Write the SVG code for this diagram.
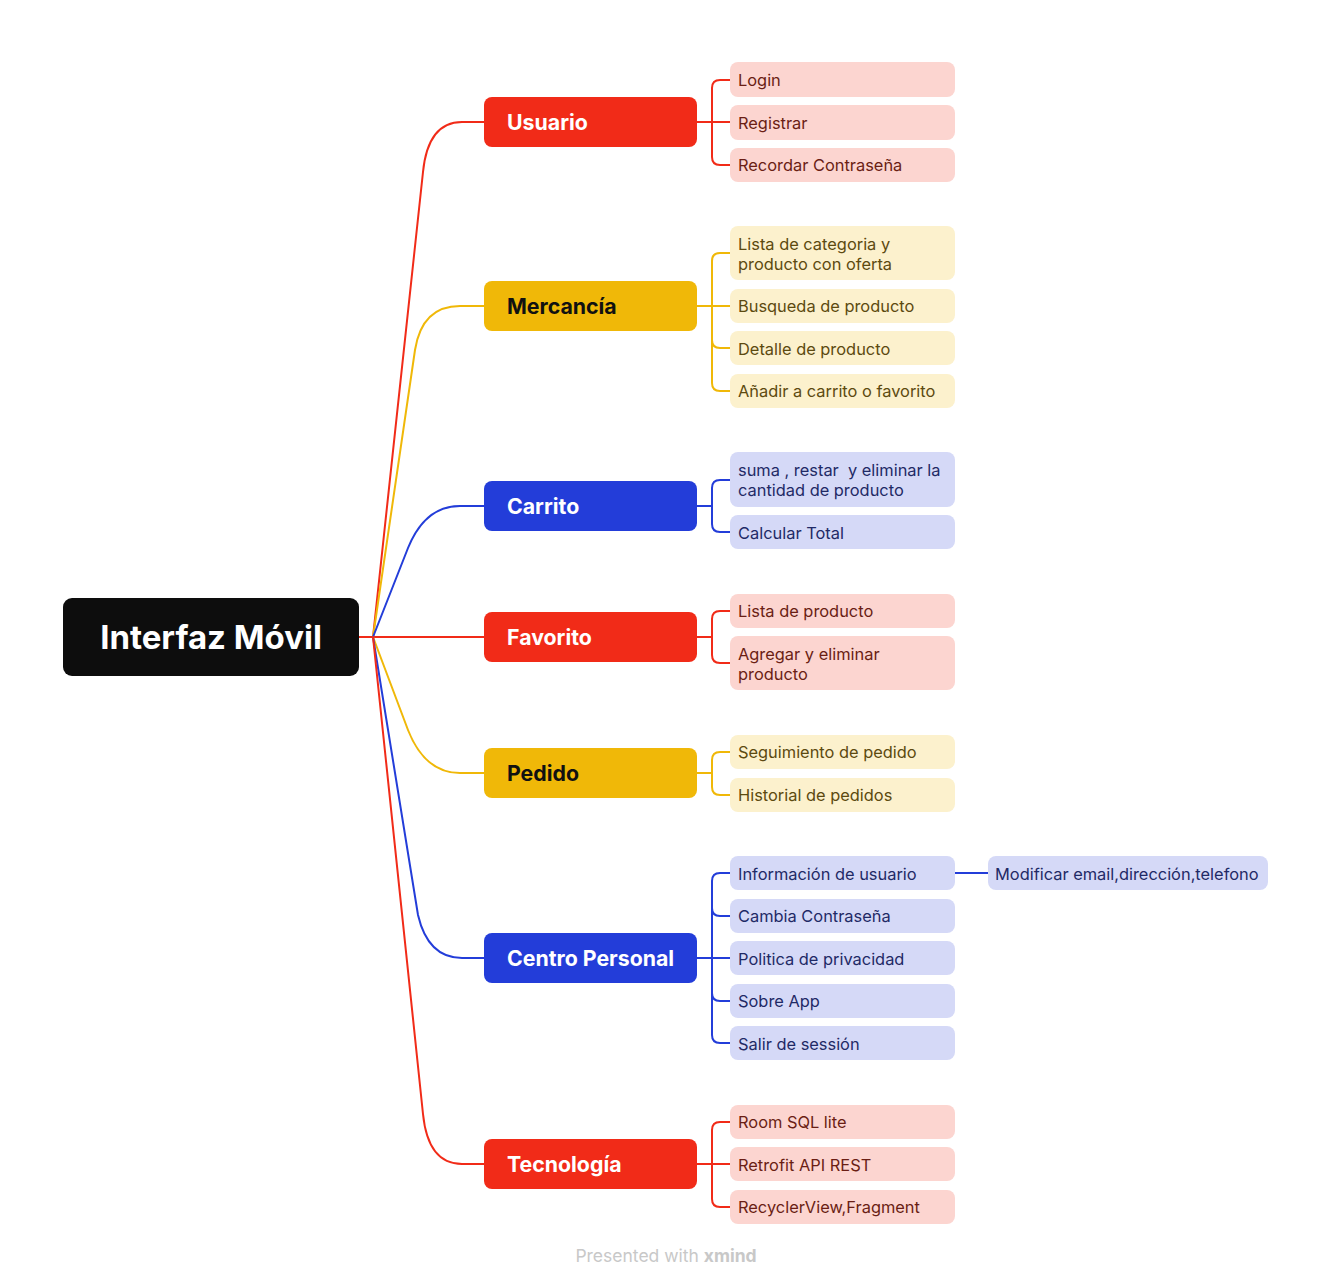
<svg xmlns="http://www.w3.org/2000/svg" width="1332" height="1287" viewBox="0 0 1332 1287">
<style>
.t{font-family:Inter,"Noto Sans","DejaVu Sans",sans-serif}
.br{font-family:Inter,"Noto Sans",sans-serif;font-size:21.3px;font-weight:700}
.lf{font-family:Inter,"Noto Sans",sans-serif;font-size:16.4px;white-space:pre}
.c{fill:none;stroke-width:2;stroke-linecap:round}
.r{stroke:#F12B18}.y{stroke:#F0B808}.b{stroke:#233DD9}
.nr{fill:#F12B18}.ny{fill:#F0B808}.nb{fill:#233DD9}
.lr{fill:#FCD5D0}.ly{fill:#FCF1CD}.lb{fill:#D5D9F7}
.tr{fill:#6A1E14}.ty{fill:#5C4A10}.tb{fill:#1F2A66}
</style>
<rect width="1332" height="1287" fill="#fff"/>
<g id="connectors">
<path class="c r" d="M359,637 H373 L423,172 Q428,122 462,122 H484"/>
<path class="c y" d="M373,637 L415,350 Q422,306 460,306 H484"/>
<path class="c b" d="M373,637 L408,548 Q425,506 460,506 H484"/>
<path class="c r" d="M373,637 H484"/>
<path class="c y" d="M373,637 L408,730 Q425,773 460,773 H484"/>
<path class="c b" d="M373,637 L418,915 Q428,958 462,958 H484"/>
<path class="c r" d="M373,637 L423,1114 Q428,1164 462,1164 H484"/>
<path class="c r" d="M697,122 H730 M730,80 H720 Q712,80 712,88 V157 Q712,165 720,165 H730"/>
<path class="c y" d="M697,306 H730 M730,253 H720 Q712,253 712,261 V383 Q712,391 720,391 H730 M712,340 Q712,348 720,348 H730"/>
<path class="c b" d="M697,506 H712 M730,480 H720 Q712,480 712,488 V524 Q712,532 720,532 H730"/>
<path class="c r" d="M697,637 H712 M730,611 H720 Q712,611 712,619 V655 Q712,663 720,663 H730"/>
<path class="c y" d="M697,773 H712 M730,752 H720 Q712,752 712,760 V787 Q712,795 720,795 H730"/>
<path class="c b" d="M697,958 H730 M730,873 H720 Q712,873 712,881 V1035 Q712,1043 720,1043 H730 M712,908 Q712,916 720,916 H730 M712,993 Q712,1001 720,1001 H730 M955,873 H988"/>
<path class="c r" d="M697,1164 H730 M730,1122 H720 Q712,1122 712,1130 V1199 Q712,1207 720,1207 H730"/>
</g>
<g id="root">
<rect x="63" y="598" width="296" height="78" rx="9" fill="#0D0D0D"/>
<text class="t" x="211" y="649" font-size="33" font-weight="700" fill="#fff" text-anchor="middle">Interfaz Móvil</text>
</g>
<g id="usuario"><rect class="nr" x="484" y="97" width="213" height="50" rx="8"/><text class="br" x="507" y="130" fill="#fff">Usuario</text></g>
<g id="mercancia"><rect class="ny" x="484" y="281" width="213" height="50" rx="8"/><text class="br" x="507" y="314" fill="#111">Mercancía</text></g>
<g id="carrito"><rect class="nb" x="484" y="481" width="213" height="50" rx="8"/><text class="br" x="507" y="514" fill="#fff">Carrito</text></g>
<g id="favorito"><rect class="nr" x="484" y="612" width="213" height="50" rx="8"/><text class="br" x="507" y="645" fill="#fff">Favorito</text></g>
<g id="pedido"><rect class="ny" x="484" y="748" width="213" height="50" rx="8"/><text class="br" x="507" y="781" fill="#111">Pedido</text></g>
<g id="centro"><rect class="nb" x="484" y="933" width="213" height="50" rx="8"/><text class="br" x="507" y="966" fill="#fff">Centro Personal</text></g>
<g id="tecnologia"><rect class="nr" x="484" y="1139" width="213" height="50" rx="8"/><text class="br" x="507" y="1172" fill="#fff">Tecnología</text></g>

<g id="login"><rect class="lr" x="730" y="62" width="225" height="35" rx="8"/><text class="lf tr" x="738" y="86">Login</text></g>
<g id="registrar"><rect class="lr" x="730" y="105" width="225" height="35" rx="8"/><text class="lf tr" x="738" y="129">Registrar</text></g>
<g id="recordar"><rect class="lr" x="730" y="148" width="225" height="34" rx="8"/><text class="lf tr" x="738" y="171">Recordar Contraseña</text></g>

<g id="lista-cat"><rect class="ly" x="730" y="226" width="225" height="54" rx="8"/><text class="lf ty" x="738" y="250">Lista de categoria y</text><text class="lf ty" x="738" y="270">producto con oferta</text></g>
<g id="busqueda"><rect class="ly" x="730" y="289" width="225" height="34" rx="8"/><text class="lf ty" x="738" y="312">Busqueda de producto</text></g>
<g id="detalle"><rect class="ly" x="730" y="331" width="225" height="34" rx="8"/><text class="lf ty" x="738" y="355">Detalle de producto</text></g>
<g id="anadir"><rect class="ly" x="730" y="374" width="225" height="34" rx="8"/><text class="lf ty" x="738" y="397">Añadir a carrito o favorito</text></g>

<g id="suma"><rect class="lb" x="730" y="452" width="225" height="55" rx="8"/><text class="lf tb" x="738" y="476">suma , restar  y eliminar la</text><text class="lf tb" x="738" y="496">cantidad de producto</text></g>
<g id="calcular"><rect class="lb" x="730" y="515" width="225" height="34" rx="8"/><text class="lf tb" x="738" y="539">Calcular Total</text></g>

<g id="lista-prod"><rect class="lr" x="730" y="594" width="225" height="34" rx="8"/><text class="lf tr" x="738" y="617">Lista de producto</text></g>
<g id="agregar"><rect class="lr" x="730" y="636" width="225" height="54" rx="8"/><text class="lf tr" x="738" y="660">Agregar y eliminar</text><text class="lf tr" x="738" y="680">producto</text></g>

<g id="seguimiento"><rect class="ly" x="730" y="735" width="225" height="34" rx="8"/><text class="lf ty" x="738" y="758">Seguimiento de pedido</text></g>
<g id="historial"><rect class="ly" x="730" y="778" width="225" height="34" rx="8"/><text class="lf ty" x="738" y="801">Historial de pedidos</text></g>

<g id="informacion"><rect class="lb" x="730" y="856" width="225" height="34" rx="8"/><text class="lf tb" x="738" y="880">Información de usuario</text></g>
<g id="modificar"><rect class="lb" x="988" y="856" width="280" height="34" rx="8"/><text class="lf tb" x="995" y="880">Modificar email,dirección,telefono</text></g>
<g id="cambia"><rect class="lb" x="730" y="899" width="225" height="34" rx="8"/><text class="lf tb" x="738" y="922">Cambia Contraseña</text></g>
<g id="politica"><rect class="lb" x="730" y="941" width="225" height="34" rx="8"/><text class="lf tb" x="738" y="965">Politica de privacidad</text></g>
<g id="sobre"><rect class="lb" x="730" y="984" width="225" height="34" rx="8"/><text class="lf tb" x="738" y="1007">Sobre App</text></g>
<g id="salir"><rect class="lb" x="730" y="1026" width="225" height="34" rx="8"/><text class="lf tb" x="738" y="1050">Salir de sessión</text></g>

<g id="room"><rect class="lr" x="730" y="1105" width="225" height="34" rx="8"/><text class="lf tr" x="738" y="1128">Room SQL lite</text></g>
<g id="retrofit"><rect class="lr" x="730" y="1147" width="225" height="34" rx="8"/><text class="lf tr" x="738" y="1171">Retrofit API REST</text></g>
<g id="recycler"><rect class="lr" x="730" y="1190" width="225" height="34" rx="8"/><text class="lf tr" x="738" y="1213">RecyclerView,Fragment</text></g>

<text class="t" x="666" y="1262" font-size="17.5" fill="#C8C8C8" text-anchor="middle">Presented with <tspan font-weight="700">xmind</tspan></text>
</svg>
